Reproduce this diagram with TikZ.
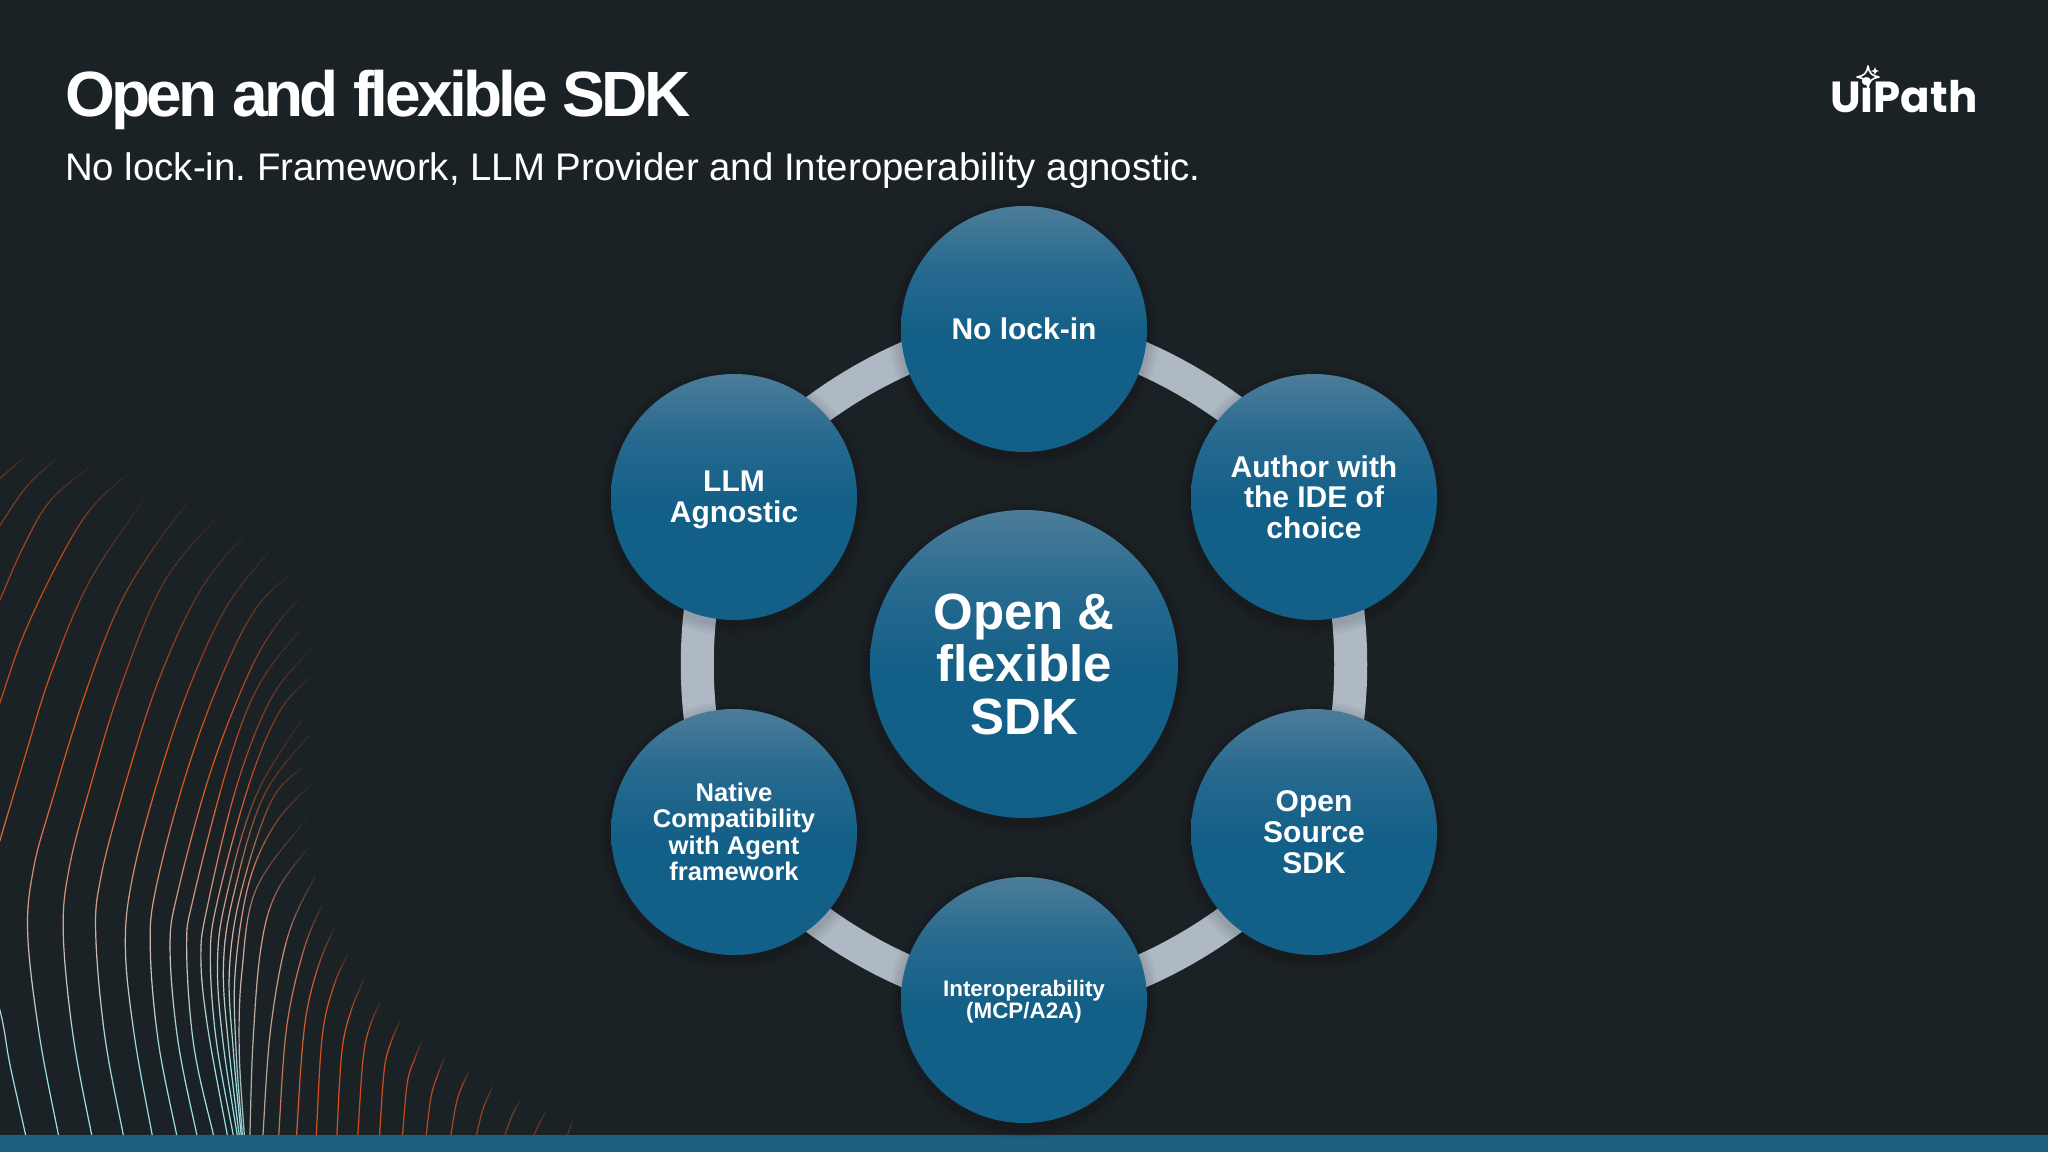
\documentclass[tikz,border=0pt]{standalone}
\usepackage{fontspec}
\setmainfont{Liberation Sans}
\newfontfamily\titlef[LetterSpace=-5.6]{Liberation Sans}
\newfontfamily\logof{Poppins}
\usetikzlibrary{calc}
\definecolor{bgc}{HTML}{1B2226}
\definecolor{barc}{HTML}{1D6080}
\definecolor{ringc}{HTML}{AEB9C4}
\definecolor{orbA}{HTML}{4C7D99}
\definecolor{orbB}{HTML}{27698F}
\definecolor{orbC}{HTML}{125F87}
\pgfdeclareverticalshading{orbshade}{100bp}{color(0bp)=(orbC);color(25bp)=(orbC);color(48bp)=(orbC);color(62bp)=(orbB);color(75bp)=(orbA);color(100bp)=(orbA)}
\pgfdeclarelayer{under}
\pgfsetlayers{under,main}
\tikzset{
  orb/.style={circle,shading=orbshade,minimum size=246pt,inner sep=0pt,text=white,align=center,font=\bfseries\fontsize{30}{30.7}\selectfont},
  hubnode/.style={orb,minimum size=308pt,font=\bfseries\fontsize{51}{52.5}\selectfont},
  ringline/.style={draw=ringc,line width=33pt,bend left=30,looseness=0.75},
  waveline/.style={line width=1.2pt,line cap=round},
}
\newcount\wn
\def\wxat#1{\csname wx#1\endcsname}
\def\wyat#1{\csname wy#1\endcsname}
\def\crom#1#2#3#4#5{(0.5*(2*(#2)+(-(#1)+(#3))*(#5)+(2*(#1)-5*(#2)+4*(#3)-(#4))*(#5)^2+(-(#1)+3*(#2)-3*(#3)+(#4))*(#5)^3))}
% #1 whiteness, #2 peak strength, #3 points in crop coordinates
\newcommand\wave[3]{%
  \global\wn=0
  \foreach \px/\py in {#3}{%
    \global\advance\wn by 1
    \expandafter\xdef\csname wx\the\wn\endcsname{\px}%
    \expandafter\xdef\csname wy\the\wn\endcsname{\py}%
  }%
  \expandafter\xdef\csname wx0\endcsname{\wxat{1}}%
  \expandafter\xdef\csname wy0\endcsname{\wyat{1}}%
  \edef\wlast{\the\wn}%
  \edef\wnext{\the\numexpr\wn+1\relax}%
  \edef\wprev{\the\numexpr\wn-1\relax}%
  \expandafter\xdef\csname wx\wnext\endcsname{\wxat{\wlast}}%
  \expandafter\xdef\csname wy\wnext\endcsname{\wyat{\wlast}}%
  \xdef\ox{\fpeval{round(\wxat{1}/2.529,2)}}%
  \xdef\oy{\fpeval{round(420+\wyat{1}/2.142,2)}}%
  \foreach \ii in {1,...,\wprev}{%
    \edef\ia{\the\numexpr\ii-1\relax}%
    \edef\ib{\the\numexpr\ii+1\relax}%
    \edef\ic{\the\numexpr\ii+2\relax}%
    \foreach \kk in {1,...,8}{%
      \edef\tq{\fpeval{\kk/8}}%
      \edef\zx{\fpeval{\crom{\wxat{\ia}}{\wxat{\ii}}{\wxat{\ib}}{\wxat{\ic}}{\tq}}}%
      \edef\zy{\fpeval{\crom{\wyat{\ia}}{\wyat{\ii}}{\wyat{\ib}}{\wyat{\ic}}{\tq}}}%
      \edef\nx{\fpeval{round(\zx/2.529,2)}}%
      \edef\ny{\fpeval{round(420+\zy/2.142,2)}}%
      \edef\ss{\fpeval{(\ii-1+\tq)/\wprev}}%
      \edef\alp{\fpeval{min(1,(#2)*1.1)*min(1,(1-\ss)/0.38)}}%
      \edef\qq{\fpeval{max(0,min(1,(\zy-1100)/300))}}%
      \edef\wt{\fpeval{(#1)*max(0,min(1,(\zy-760)/400))}}%
      \definecolor{wc}{rgb}{%
        \fpeval{round(0.106*(1-\alp)+\alp*(0.90*(1-\wt)+\wt*(0.80-0.2*\qq)),3)},%
        \fpeval{round(0.133*(1-\alp)+\alp*(0.32*(1-\wt)+\wt*(0.76+0.12*\qq)),3)},%
        \fpeval{round(0.149*(1-\alp)+\alp*(0.11*(1-\wt)+\wt*(0.75+0.15*\qq)),3)}}%
      \draw[waveline,wc] (\ox,\oy) -- (\nx,\ny);
      \xdef\ox{\nx}\xdef\oy{\ny}%
    }%
  }%
}
% #1 name, #2 x, #3 y, #4 radius, #5 style, #6 text
\newcommand\orbnode[6]{%
  \foreach \gr in {12,9,6,3}{%
    \fill[black,opacity=0.035] (#2,#3+4) circle ({#4+\gr});
  }%
  \node[#5] (#1) at (#2,#3) {#6};
}
\begin{document}
\frenchspacing
\begin{tikzpicture}[x=1pt,y=-1pt]
\useasboundingbox (0,0) rectangle (2048,1152);
\begin{pgfonlayer}{under}
\fill[bgc] (0,0) rectangle (2048,1152);
\begin{scope}
\clip (0,0) rectangle (2048,1135);
\wave{1}{0.35}{-40/160,0/125,75/70}
\wave{1}{0.45}{-40/270,0/225,70/140,160/70}
\wave{1}{0.6}{-40/460,0/385,60/270,130/170,250/85}
\wave{1}{0.75}{-40/700,0/605,60/460,150/300,230/190,330/110}
\wave{1}{0.85}{-40/1010,0/900,60/730,130/540,230/340,390/140}
\wave{1}{0.9}{65/1532,25/1380,0/1265,-60/1100,-100/950}
\wave{1}{0.9}{148/1532,100/1320,70/1100,85/960,130/820,210/600,300/400,400/260,500/150}
\wave{1}{0.9}{232/1532,185/1320,160/1100,175/960,230/780,310/560,420/340,580/180}
\wave{1}{0.9}{312/1532,265/1320,242/1100,255/980,310/800,400/560,510/360,640/225}
\wave{1}{0.9}{385/1532,340/1320,317/1130,335/980,400/770,480/570,580/390,710/255}
\wave{1}{0.9}{447/1532,400/1330,380/1130,395/1000,470/760,560/550,650/400,750/320}
\wave{1}{0.9}{498/1532,450/1330,430/1130,450/1010,530/760,620/560,690/450,780/360}
\wave{1}{0.9}{540/1532,490/1340,472/1130,490/1020,580/730,660/560,780/430}
\wave{1}{0.9}{575/1532,525/1300,508/1150,525/1040,600/780,690/590,800/480}
\wave{1}{0.9}{590/1532,547/1330,532/1150,550/1030,630/780,710/620,800/540}
\wave{1}{0.9}{600/1532,565/1340,550/1170,570/1030,650/800,790/610}
\wave{1}{0.9}{605/1532,578/1340,565/1170,590/1020,670/800,810/650}
\wave{1}{0.9}{610/1532,590/1350,580/1180,610/1010,690/810,790/730}
\wave{0.9}{0.9}{613/1532,597/1350,595/1180,630/990,700/860,800/770}
\wave{0.8}{0.9}{618/1532,605/1350,612/1180,650/1000,790/840}
\wave{0.7}{0.9}{632/1532,640/1330,660/1130,700/1010,790/905}
\wave{0.6}{0.9}{665/1532,685/1300,730/1100,805/965}
\wave{0.3}{0.85}{705/1532,725/1300,770/1130,820/1030}
\wave{0.1}{0.85}{750/1532,770/1300,805/1170,850/1080}
\wave{0}{0.85}{800/1532,815/1320,845/1210,885/1135}
\wave{0}{0.85}{852/1532,865/1350,890/1260,925/1190}
\wave{0}{0.8}{905/1532,918/1370,935/1300,965/1240}
\wave{0}{0.8}{960/1532,972/1390,990/1330,1015/1280}
\wave{0}{0.75}{1018/1532,1030/1420,1048/1370,1070/1325}
\wave{0}{0.7}{1078/1532,1090/1450,1108/1400,1128/1360}
\wave{0}{0.65}{1140/1532,1155/1460,1172/1420,1190/1390}
\wave{0}{0.55}{1205/1532,1222/1475,1250/1420}
\wave{0}{0.45}{1277/1532,1295/1490,1320/1450}
\wave{0}{0.35}{1350/1532,1365/1505,1385/1475}
\wave{0}{0.25}{1435/1532,1442/1515,1450/1495}
\end{scope}
\fill[barc] (0,1135) rectangle (2048,1152);
\end{pgfonlayer}

\node[anchor=base west,inner sep=0pt,text=white,font=\titlef\bfseries\fontsize{64}{64}\selectfont] (title) at (65,116) {Open and flexible SDK};
\node[anchor=base west,inner sep=0pt,text=white,font=\fontsize{38.4}{38.4}\selectfont] (subtitle) at (65,180) {No lock-in. Framework, LLM Provider and Interoperability agnostic.};
\node[anchor=base west,inner sep=0pt,text=white,font=\logof\bfseries\fontsize{43.5}{44}\selectfont] (logo) at (1830,112) {UiPath};
\draw[white,line width=1.6pt,line join=round] (1868,66) .. controls (1869,73) and (1872,76) .. (1879,77) .. controls (1872,78) and (1869,81) .. (1868,88) .. controls (1867,81) and (1864,78) .. (1857,77) .. controls (1864,76) and (1867,73) .. (1868,66) -- cycle;
\fill[white] (1875,67) .. controls (1875.5,70) and (1876,70.5) .. (1879,71) .. controls (1876,71.5) and (1875.5,72) .. (1875,75) .. controls (1874.5,72) and (1874,71.5) .. (1871,71) .. controls (1874,70.5) and (1874.5,70) .. (1875,67) -- cycle;

\orbnode{ntop}{1024}{329}{123}{orb}{No lock-in}
\orbnode{nur}{1314}{497}{123}{orb}{Author with\\the IDE of\\choice}
\orbnode{nlr}{1314}{832}{123}{orb}{Open\\Source\\SDK}
\orbnode{nbot}{1024}{1000}{123}{orb,font=\bfseries\fontsize{22.4}{22}\selectfont}{\rule{0pt}{19pt}Interoperability\\(MCP/A2A)}
\orbnode{nll}{734}{832}{123}{orb,font=\bfseries\fontsize{25.6}{26.5}\selectfont}{Native\\Compatibility\\with Agent\\framework}
\orbnode{nul}{734}{497}{123}{orb}{\rule{0pt}{27pt}LLM\\Agnostic}
\orbnode{hub}{1024}{664}{154}{hubnode}{Open \&\\flexible\\SDK}

\begin{pgfonlayer}{under}
\draw[ringline] (ntop.center) to (nur.center);
\draw[ringline] (nur.center) to (nlr.center);
\draw[ringline] (nlr.center) to (nbot.center);
\draw[ringline] (nbot.center) to (nll.center);
\draw[ringline] (nll.center) to (nul.center);
\draw[ringline] (nul.center) to (ntop.center);
\end{pgfonlayer}
\end{tikzpicture}
\end{document}
